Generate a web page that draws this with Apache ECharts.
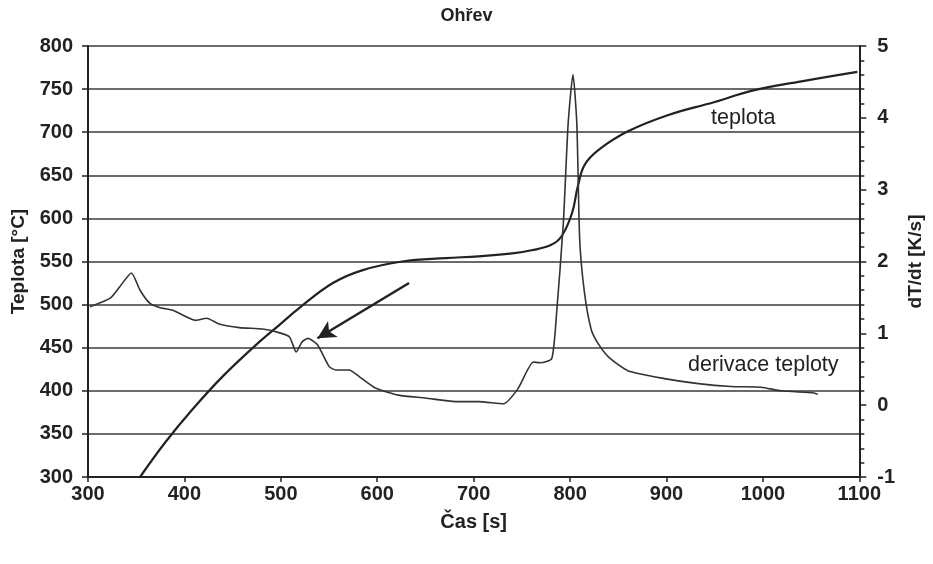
<!DOCTYPE html>
<html>
<head>
<meta charset="utf-8">
<script src="https://cdn.jsdelivr.net/npm/echarts@6/dist/echarts.min.js"></script>
<style>html,body{margin:0;padding:0;background:#fff}#c{width:933px;height:564px}</style>
</head>
<body>
<div id="c"></div>
<script>
const title = 'Ohřev';
const xName = 'Čas [s]';
const yLeftName = 'Teplota [°C]';
const yRightName = 'dT/dt [K/s]';

const tempTime = [354, 380, 408, 440, 478, 498, 519, 554, 585, 626, 671, 705, 740, 760, 780, 791, 802, 808, 815, 829, 860, 902, 950, 988, 1040, 1098];
const tempValue = [300, 340, 378, 417, 457, 476, 496, 525, 540, 550, 554, 556, 559.5, 563, 569, 579, 606, 637, 662, 679, 701, 720, 735, 748, 759, 770];

const derTime = [302, 323, 333, 345, 354, 364, 374, 388, 412, 423, 436, 457, 481, 498, 509, 516, 522, 528, 538, 550, 557, 571, 581, 598, 622, 650, 681, 705, 731, 746, 762, 769, 781, 786, 793, 798, 803, 807, 810, 815, 822, 829, 840, 860, 898, 933, 967, 998, 1019, 1053, 1057];
const derValue = [1.37, 1.49, 1.65, 1.84, 1.60, 1.42, 1.36, 1.32, 1.18, 1.21, 1.13, 1.08, 1.06, 1.01, 0.95, 0.74, 0.88, 0.93, 0.84, 0.54, 0.49, 0.49, 0.40, 0.24, 0.14, 0.10, 0.05, 0.05, 0.02, 0.23, 0.60, 0.59, 0.65, 1.28, 2.53, 3.92, 4.60, 3.92, 2.30, 1.56, 1.05, 0.86, 0.67, 0.48, 0.37, 0.30, 0.26, 0.25, 0.20, 0.17, 0.15];

const arrowFrom = [633, 525];
const arrowTo = [538, 461];

const labelTemp = 'teplota';
const labelDer = 'derivace teploty';

const FONT = '"Liberation Sans", Arial, sans-serif';
const INK = '#222';

const chart = echarts.init(document.getElementById('c'), null, {renderer: 'canvas'});
chart.setOption({
  animation: false,
  backgroundColor: '#fff',
  title: {
    text: title, left: 'center', top: 2,
    textStyle: {fontFamily: FONT, fontWeight: 'bold', fontSize: 18, color: INK}
  },
  grid: {left: 88, right: 71, top: 46, bottom: 87},
  xAxis: {
    type: 'value', min: 300, max: 1100, interval: 100,
    name: xName, nameLocation: 'middle', nameGap: 35,
    nameTextStyle: {fontFamily: FONT, fontWeight: 'bold', fontSize: 20, color: INK},
    axisLine: {show: true, onZero: false, lineStyle: {color: INK, width: 2}},
    axisTick: {show: true, length: 5, inside: false, lineStyle: {color: INK, width: 1.5}},
    axisLabel: {fontFamily: FONT, fontWeight: 'bold', fontSize: 20, color: INK, margin: 7, formatter: v => String(v)},
    splitLine: {show: false}
  },
  yAxis: [{
    type: 'value', min: 300, max: 800, interval: 50, position: 'left',
    name: yLeftName, nameLocation: 'middle', nameGap: 60, nameRotate: 90,
    nameTextStyle: {fontFamily: FONT, fontWeight: 'bold', fontSize: 19, color: INK},
    axisLine: {show: true, lineStyle: {color: INK, width: 2}},
    axisTick: {show: true, length: 6, lineStyle: {color: INK, width: 1.5}},
    axisLabel: {fontFamily: FONT, fontWeight: 'bold', fontSize: 20, color: INK, margin: 15},
    splitLine: {show: true, lineStyle: {color: '#3a3a3a', width: 1.5}}
  }, {
    type: 'value', min: -1, max: 5, interval: 1, position: 'right',
    name: yRightName, nameLocation: 'middle', nameGap: 43, nameRotate: 90,
    nameTextStyle: {fontFamily: FONT, fontWeight: 'bold', fontSize: 19, color: INK},
    axisLine: {show: true, lineStyle: {color: INK, width: 2}},
    axisTick: {show: true, length: 7, lineStyle: {color: INK, width: 1.5}},
    minorTick: {show: true, splitNumber: 5, length: 5, lineStyle: {color: INK, width: 1.5}},
    axisLabel: {fontFamily: FONT, fontWeight: 'bold', fontSize: 20, color: INK, margin: 18},
    splitLine: {show: false}
  }],
  series: [{
    name: 'teplota', type: 'line', yAxisIndex: 0,
    data: tempTime.map((t, i) => [t, tempValue[i]]),
    showSymbol: false, smooth: 0.4,
    lineStyle: {color: INK, width: 2.2},
    markLine: {
      silent: true, symbol: ['none', 'arrow'], symbolSize: [14, 18],
      label: {show: false},
      lineStyle: {color: INK, width: 2.5, type: 'solid'},
      data: [[{coord: arrowFrom}, {coord: arrowTo}]]
    },
    z: 3
  }, {
    name: 'derivace', type: 'line', yAxisIndex: 1,
    data: derTime.map((t, i) => [t, derValue[i]]),
    showSymbol: false, smooth: 0.2,
    lineStyle: {color: '#333', width: 1.6},
    z: 3
  }],
  graphic: [{
    type: 'text', left: 711, top: 107,
    style: {text: labelTemp, font: '21.5px ' + FONT, fill: INK}
  }, {
    type: 'text', left: 688, top: 354,
    style: {text: labelDer, font: '21.5px ' + FONT, fill: INK}
  }]
});
</script>
</body>
</html>
